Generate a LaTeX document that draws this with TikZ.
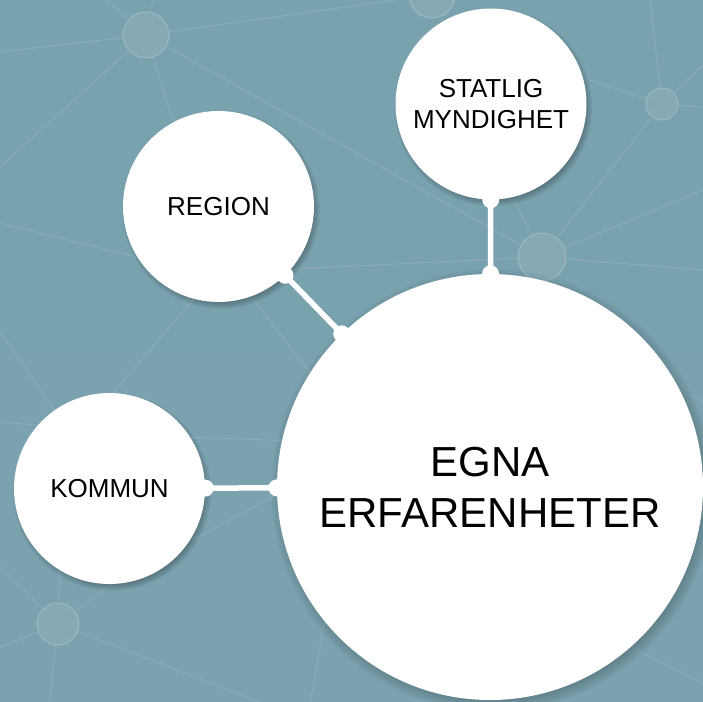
\documentclass[tikz,border=0pt]{standalone}
\usepackage{fontspec}
\setmainfont{Liberation Sans}
\usetikzlibrary{shadows}
\definecolor{bgtop}{HTML}{79A2AF}
\definecolor{bgmid}{HTML}{90B4BE}
\definecolor{bgbot}{HTML}{7AA2AF}
\begin{document}
\begin{tikzpicture}[x=1pt,y=-1pt,
  net/.style={draw=white,draw opacity=0.13,line width=0.9pt},
  hub/.style={circle,draw=white,draw opacity=0.15,line width=1.5pt,fill=white,fill opacity=0.09,inner sep=0pt},
  bubble/.style={circle,fill=white,inner sep=0pt,align=center,text=black,
     circular drop shadow={shadow xshift=2pt,shadow yshift=-3pt,opacity=0.5,shadow scale=1.04,fill=black}},
  smallbubble/.style={bubble,minimum size=191pt,font=\fontsize{26}{31.2}\selectfont},
  conn/.style={draw=white,line width=5.5pt},
  dot/.style={circle,fill=white,minimum size=17pt,inner sep=0pt}]
\useasboundingbox (0,0) rectangle (703,701);
\clip (0,0) rectangle (703,701);
\shade[top color=bgtop,middle color=bgmid,bottom color=bgbot] (0,0) rectangle (703,701);

% background network hubs
\node[hub,minimum size=46pt] (hA) at (146,35) {};
\node[hub,minimum size=46pt] (hB) at (432,-5) {};
\node[hub,minimum size=48pt] (hC) at (542,257) {};
\node[hub,minimum size=32pt] (hD) at (662,104) {};
\node[hub,minimum size=42pt] (hE) at (58,624) {};

% free ends
\coordinate (e1) at (0,52);
\coordinate (e2) at (107,0);
\coordinate (e3) at (153,0);
\coordinate (e4) at (0,167);
\coordinate (e5) at (190,175);
\coordinate (e6) at (0,223);
\coordinate (e7) at (200,273);
\coordinate (e8) at (240,245);
\coordinate (e9) at (107,400);
\coordinate (e10) at (240,283);
\coordinate (e11) at (320,385);
\coordinate (e12) at (250,271);
\coordinate (e13) at (703,270);
\coordinate (e14) at (703,190);
\coordinate (e15) at (495,160);
\coordinate (e16) at (650,0);
\coordinate (e17) at (703,107);
\coordinate (e18) at (703,65);
\coordinate (e19) at (560,70);
\coordinate (e20) at (0,331);
\coordinate (e21) at (75,440);
\coordinate (e22) at (0,422);
\coordinate (e23) at (60,427);
\coordinate (e24) at (150,436);
\coordinate (e25) at (330,442);
\coordinate (e26) at (330,466);
\coordinate (e27) at (150,563);
\coordinate (e28) at (60,560);
\coordinate (e29) at (0,647);
\coordinate (e30) at (49,705);
\coordinate (e31) at (265,704);
\coordinate (e32) at (125,574);
\coordinate (e33) at (0,567);
\coordinate (e34) at (330,590);
\coordinate (e35) at (310,705);
\coordinate (e36) at (560,611);
\coordinate (e37) at (710,687);
\coordinate (e38) at (690,395);
\coordinate (e39) at (710,405);

\draw[net] (hA) -- (e1);
\draw[net] (hA) -- (e2);
\draw[net] (hA) -- (e3);
\draw[net] (hA) -- (hB);
\draw[net] (hA) -- (e4);
\draw[net] (hA) -- (e5);
\draw[net] (hA) -- (hC);
\draw[net] (e6) -- (e7);
\draw[net] (e8) -- (e9);
\draw[net] (e10) -- (e11);
\draw[net] (e12) -- (hC);
\draw[net] (hC) -- (e13);
\draw[net] (hC) -- (hD);
\draw[net] (hC) -- (e14);
\draw[net] (hC) -- (e15);
\draw[net] (hD) -- (e16);
\draw[net] (hD) -- (e17);
\draw[net] (hD) -- (e18);
\draw[net] (hD) -- (e19);
\draw[net] (e20) -- (e21);
\draw[net] (e22) -- (e23);
\draw[net] (e24) -- (e25);
\draw[net] (e26) -- (e27);
\draw[net] (hE) -- (e28);
\draw[net] (hE) -- (e29);
\draw[net] (hE) -- (e30);
\draw[net] (hE) -- (e31);
\draw[net] (hE) -- (e32);
\draw[net] (hE) -- (e33);
\draw[net] (e34) -- (e35);
\draw[net] (e36) -- (e37);
\draw[net] (e38) -- (e39);

% main bubbles
\node[smallbubble] (region) at (218.5,206.5) {REGION};
\node[smallbubble] (statlig) at (491,104) {STATLIG\\MYNDIGHET};
\node[smallbubble] (kommun) at (109.5,488.5) {KOMMUN};
\node[bubble,minimum size=426pt,font=\fontsize{42}{51}\selectfont] (main) at (490,487) {EGNA\\ERFARENHETER};

% connectors
\draw[conn] (kommun) -- (main) node[dot,pos=0]{} node[dot,pos=1]{};
\draw[conn] (region) -- (main) node[dot,pos=0]{} node[dot,pos=1]{};
\draw[conn] (statlig) -- (main) node[dot,pos=0]{} node[dot,pos=1]{};
\end{tikzpicture}
\end{document}
